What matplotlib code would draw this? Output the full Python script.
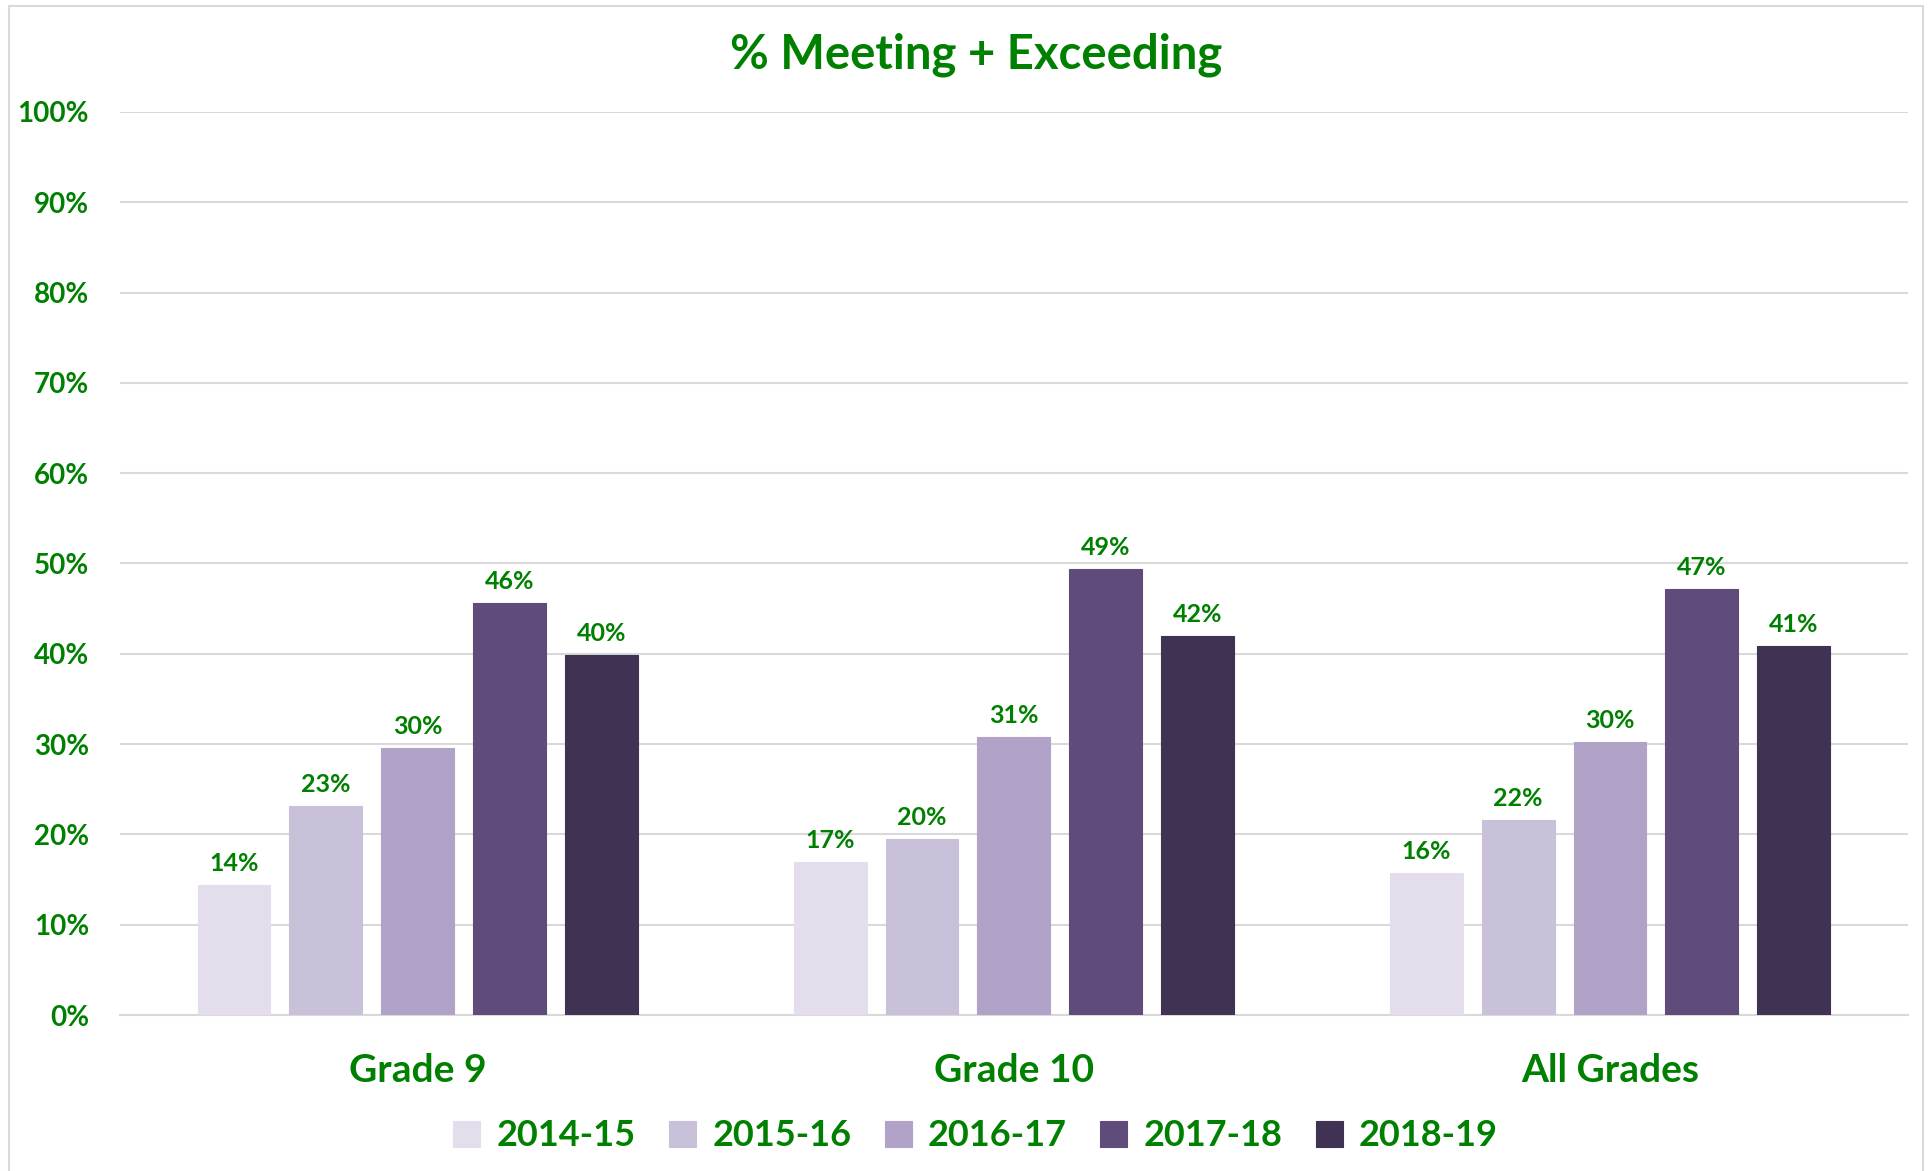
import matplotlib
matplotlib.use("Agg")
import matplotlib.pyplot as plt
import numpy as np
from matplotlib.patches import Rectangle

categories = ["Grade 9", "Grade 10", "All Grades"]
years = ["2014-15", "2015-16", "2016-17", "2017-18", "2018-19"]
v_2014_15 = [0.144, 0.169, 0.157]
v_2015_16 = [0.232, 0.195, 0.216]
v_2016_17 = [0.296, 0.308, 0.302]
v_2017_18 = [0.456, 0.494, 0.472]
v_2018_19 = [0.399, 0.420, 0.409]
series = [v_2014_15, v_2015_16, v_2016_17, v_2017_18, v_2018_19]
colors = ["#E4DEEC", "#C9C0DA", "#B1A3C8", "#604C7B", "#403252"]
yticks = [0, 0.1, 0.2, 0.3, 0.4, 0.5, 0.6, 0.7, 0.8, 0.9, 1.0]

GREEN = "#008000"
plt.rcParams['font.family'] = ['Lato', 'DejaVu Sans']

fig = plt.figure(figsize=(19.32, 11.71), dpi=100)
ax = fig.add_axes([0.0619, 0.1332, 0.9257, 0.7712])

x = np.arange(len(categories))
pitch = 0.154
width = 0.122
for i, (vals, col, yr) in enumerate(zip(series, colors, years)):
    pos = x + (i - 2) * pitch
    ax.bar(pos, vals, width=width, color=col, label=yr, zorder=3,
           edgecolor=col, linewidth=0.8)
    for xp, v in zip(pos, vals):
        ax.text(xp, v + 0.011, f"{round(v*100):d}%", ha="center", va="bottom",
                color=GREEN, fontsize=18, fontweight="bold", zorder=4)

ax.set_xlim(-0.5, 2.5)
ax.set_ylim(0, 1.0)
ax.set_yticks(yticks)
ax.set_yticklabels([f"{int(round(t*100))}%" for t in yticks])
ax.set_xticks(x)
ax.set_xticklabels(categories)
ax.yaxis.grid(True, color="#D9D9D9", linewidth=1.5, zorder=0)
ax.set_axisbelow(True)
for s in ["top", "right", "left"]:
    ax.spines[s].set_visible(False)
ax.spines["bottom"].set_color("#D9D9D9")
ax.spines["bottom"].set_linewidth(1.5)
ax.tick_params(axis="both", length=0)
ax.tick_params(axis="y", pad=22, labelsize=20, labelcolor=GREEN)
ax.tick_params(axis="x", pad=27, labelsize=28, labelcolor=GREEN)
for lab in ax.get_yticklabels() + ax.get_xticklabels():
    lab.set_fontweight("bold")

fig.text(0.505, 0.953, "% Meeting + Exceeding", ha="center", va="center",
         color=GREEN, fontsize=34, fontweight="bold")

leg = fig.legend(loc="center", bbox_to_anchor=(0.505, 0.030), ncol=5, frameon=False,
                 fontsize=26, handlelength=0.75, handleheight=0.75,
                 handletextpad=0.45, columnspacing=0.92)
for t in leg.get_texts():
    t.set_color(GREEN)
    t.set_fontweight("bold")

fig.patches.append(Rectangle((0.0047, -0.01), 0.9906, 1.0049, transform=fig.transFigure,
                             fill=False, edgecolor="#D9D9D9", linewidth=1.5))

fig.savefig("out.png", dpi=100)
